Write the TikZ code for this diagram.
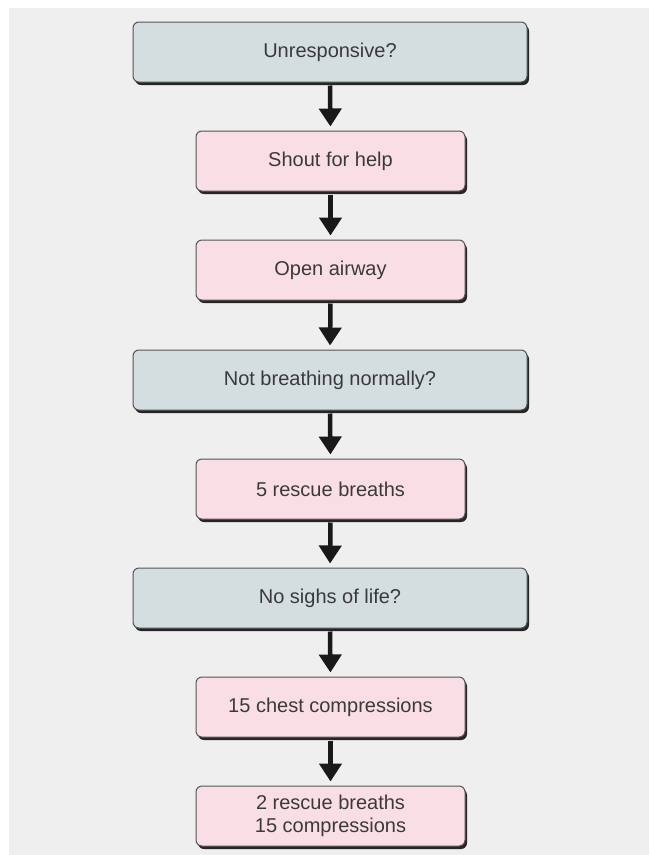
\documentclass[tikz,border=0pt]{standalone}
\usepackage{fontspec}
\setmainfont{Liberation Sans}
\usetikzlibrary{arrows.meta,shadows}
\definecolor{bg}{HTML}{EFEFEF}
\definecolor{qfill}{HTML}{D4DDE0}
\definecolor{afill}{HTML}{FADEE5}
\definecolor{txt}{HTML}{3A3A3A}
\definecolor{edge}{HTML}{555555}
\tikzset{
  x=1pt,y=-1pt,
  box/.style={draw=edge, line width=1pt, rounded corners=6pt, align=center,
    text=txt, font=\fontsize{20}{23}\selectfont, inner sep=0pt,
    drop shadow={shadow xshift=2pt, shadow yshift=-3pt, fill=black!85, opacity=1}},
  qbox/.style={box, fill=qfill, minimum width=394pt, minimum height=60pt},
  abox/.style={box, fill=afill, minimum width=269pt, minimum height=60pt},
  flow/.style={line width=4.5pt, draw=black!90, -{Triangle[length=18pt,width=22pt]}, shorten >=4pt}
}
\begin{document}
\begin{tikzpicture}
\useasboundingbox (0,0) rectangle (649,855);
\fill[white] (0,0) rectangle (649,855);
\fill[bg] (9,8) rectangle (649,855);
\node[qbox] (n1) at (330,52) {Unresponsive?};
\node[abox] (n2) at (330.5,161) {Shout for help};
\node[abox] (n3) at (330.5,270) {Open airway};
\node[qbox] (n4) at (330,380) {Not breathing normally?};
\node[abox] (n5) at (330.5,489) {5 rescue breaths};
\node[qbox] (n6) at (330,598) {No sighs of life?};
\node[abox] (n7) at (330.5,707) {15 chest compressions};
\node[abox] (n8) at (330.5,816) {2 rescue breaths\\15 compressions};
\draw[flow] ([yshift=-3pt]n1.south) -- (n2.north);
\draw[flow] ([yshift=-3pt]n2.south) -- (n3.north);
\draw[flow] ([yshift=-3pt]n3.south) -- (n4.north);
\draw[flow] ([yshift=-3pt]n4.south) -- (n5.north);
\draw[flow] ([yshift=-3pt]n5.south) -- (n6.north);
\draw[flow] ([yshift=-3pt]n6.south) -- (n7.north);
\draw[flow] ([yshift=-3pt]n7.south) -- (n8.north);
\end{tikzpicture}
\end{document}
